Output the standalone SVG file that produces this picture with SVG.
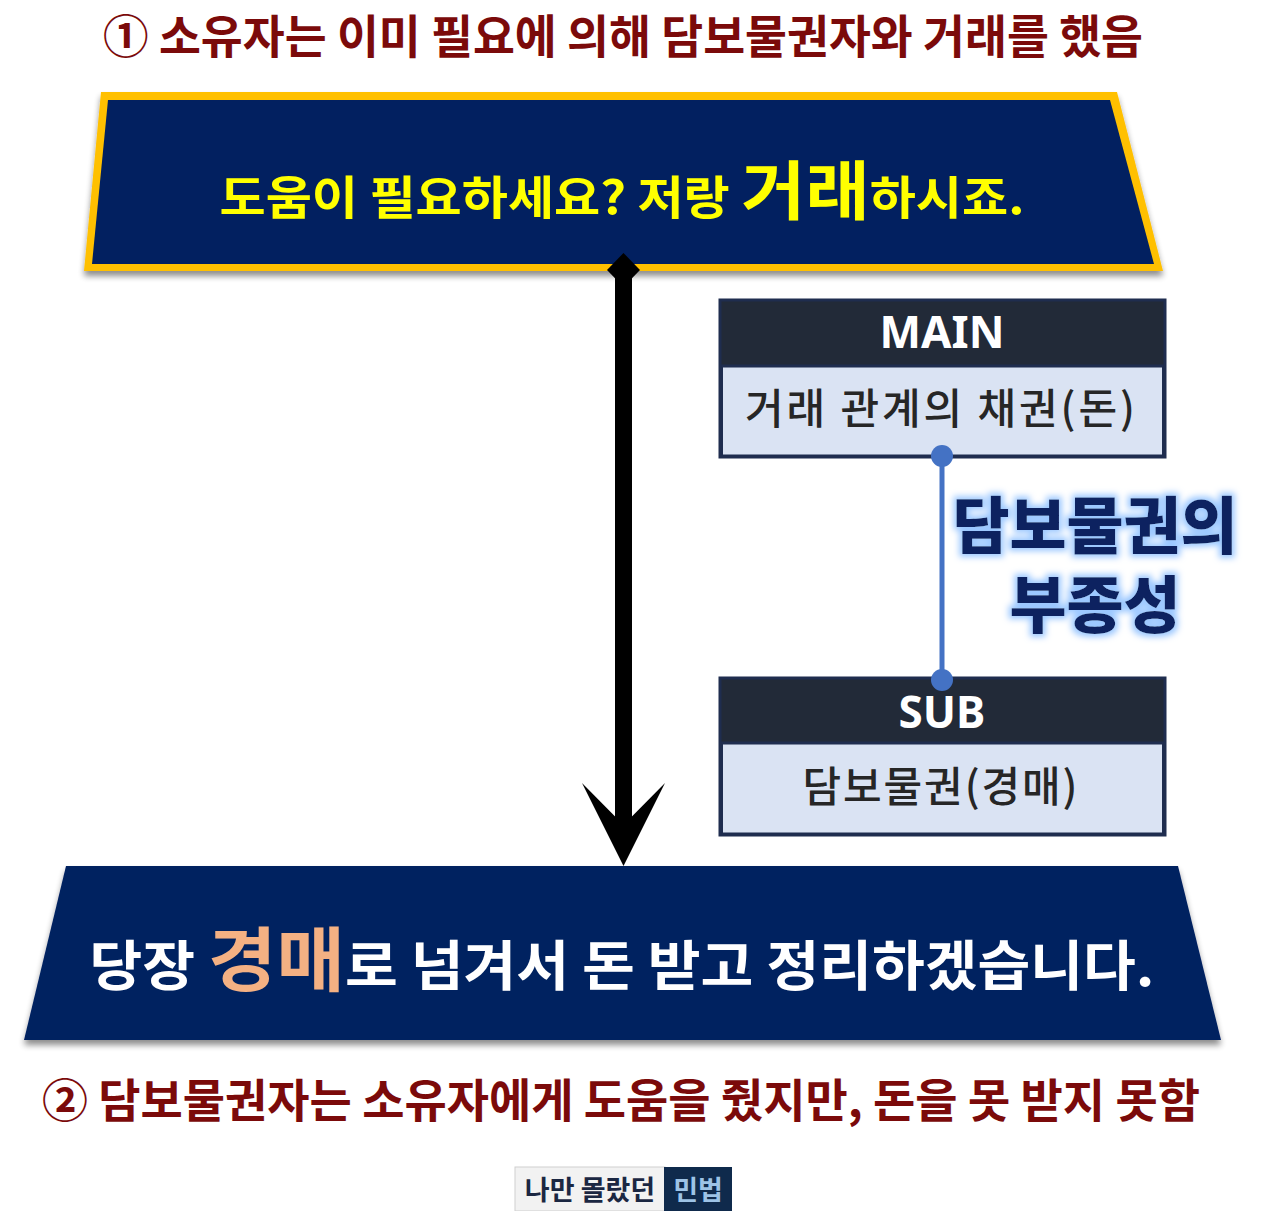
<svg xmlns="http://www.w3.org/2000/svg" width="1280" height="1211" viewBox="0 0 1280 1211">
<defs>
<style>
text{font-family:"Noto Sans CJK KR","Noto Sans",sans-serif;font-weight:700;text-anchor:middle}
.cap{fill:#7b0a0a;font-size:46px}
.hdr{fill:#ffffff;font-size:44px;font-family:"Noto Sans","Noto Sans CJK KR",sans-serif}
.body{fill:#262626;font-size:42px;font-weight:500}
.hd{fill:#222a38}
.bd{fill:#dae3f3;stroke:#1f2d4f;stroke-width:3}
.glow{fill:#0b2260;font-size:62px;font-weight:900}
</style>
<filter id="sh" x="-5%" y="-10%" width="110%" height="130%">
<feGaussianBlur in="SourceAlpha" stdDeviation="3"/>
<feOffset dx="0" dy="5" result="b"/>
<feComponentTransfer><feFuncA type="linear" slope="0.45"/></feComponentTransfer>
<feMerge><feMergeNode/><feMergeNode in="SourceGraphic"/></feMerge>
</filter>
<filter id="gl" x="-10%" y="-20%" width="120%" height="140%">
<feMorphology in="SourceAlpha" operator="dilate" radius="3" result="d"/>
<feGaussianBlur in="d" stdDeviation="3" result="bl"/>
<feFlood flood-color="#9cc8ff"/>
<feComposite in2="bl" operator="in"/>
<feMerge><feMergeNode/><feMergeNode in="SourceGraphic"/></feMerge>
</filter>
</defs>

<g id="caption-top">
<text class="cap" x="623" y="53" textLength="1040" lengthAdjust="spacingAndGlyphs">① 소유자는 이미 필요에 의해 담보물권자와 거래를 했음</text>
</g>

<g id="node-offer">
<polygon points="101,92 1117,92 1163,271 84,271" fill="#ffc000" filter="url(#sh)"/>
<polygon points="108,100 1110,100 1154,264 92,264" fill="#022060"/>
<text x="622" y="214" fill="#ffff00" font-size="46" textLength="805" lengthAdjust="spacingAndGlyphs">도움이 필요하세요? 저랑 <tspan font-size="64">거래</tspan>하시죠.</text>
</g>

<g id="node-auction">
<polygon points="66,866 1178,866 1221,1040 24,1040" fill="#022060" filter="url(#sh)"/>
<text x="622" y="986" fill="#ffffff" font-size="54" textLength="1065" lengthAdjust="spacingAndGlyphs">당장 <tspan fill="#f4b183" font-size="70">경매</tspan>로 넘겨서 돈 받고 정리하겠습니다.</text>
</g>

<g id="node-main">
<rect x="720" y="300" width="445" height="66" class="hd"/>
<rect x="721.5" y="366" width="442" height="90" class="bd"/>
<rect x="720" y="300" width="445" height="157" fill="none" stroke="#1f2d4f" stroke-width="3"/>
<text class="hdr" x="942" y="348">MAIN</text>
<text class="body" x="940" y="424" textLength="390" lengthAdjust="spacing">거래 관계의 채권(돈)</text>
</g>

<g id="node-sub">
<rect x="720" y="678" width="445" height="65" class="hd"/>
<rect x="721.5" y="743" width="442" height="91" class="bd"/>
<rect x="720" y="678" width="445" height="157" fill="none" stroke="#1f2d4f" stroke-width="3"/>
<text class="hdr" x="942" y="728">SUB</text>
<text class="body" x="940" y="802" textLength="275" lengthAdjust="spacing">담보물권(경매)</text>
</g>

<g id="label-accessory" filter="url(#gl)">
<text class="glow" x="1095" y="549">담보물권의<tspan x="1095" y="628">부종성</tspan></text>
</g>

<g id="connectors">
<line x1="623.5" y1="272" x2="623.5" y2="830" stroke="#000" stroke-width="17"/>
<polygon points="623.5,253 640,270 623.5,287 607,270" fill="#000"/>
<polygon points="582,783 623.5,866 665,783 623.5,825" fill="#000"/>
<line x1="942" y1="456" x2="942" y2="680" stroke="#4472c4" stroke-width="5"/>
<circle cx="942" cy="456" r="11" fill="#4472c4"/>
<circle cx="942" cy="680" r="11" fill="#4472c4"/>
</g>

<g id="caption-bottom">
<text class="cap" x="621" y="1117" font-size="48" textLength="1158" lengthAdjust="spacingAndGlyphs">② 담보물권자는 소유자에게 도움을 줬지만, 돈을 못 받지 못함</text>
</g>

<g id="footer-badge">
<rect x="515" y="1167" width="150" height="44" fill="#f2f2f2" stroke="#cfcfcf" stroke-width="1"/>
<rect x="664" y="1167" width="68" height="44" fill="#0f2a4c"/>
<text x="590" y="1200" font-size="27" fill="#1b2742">나만 몰랐던</text>
<text x="698" y="1200" font-size="27" fill="#9dc3e6">민법</text>
</g>
</svg>
